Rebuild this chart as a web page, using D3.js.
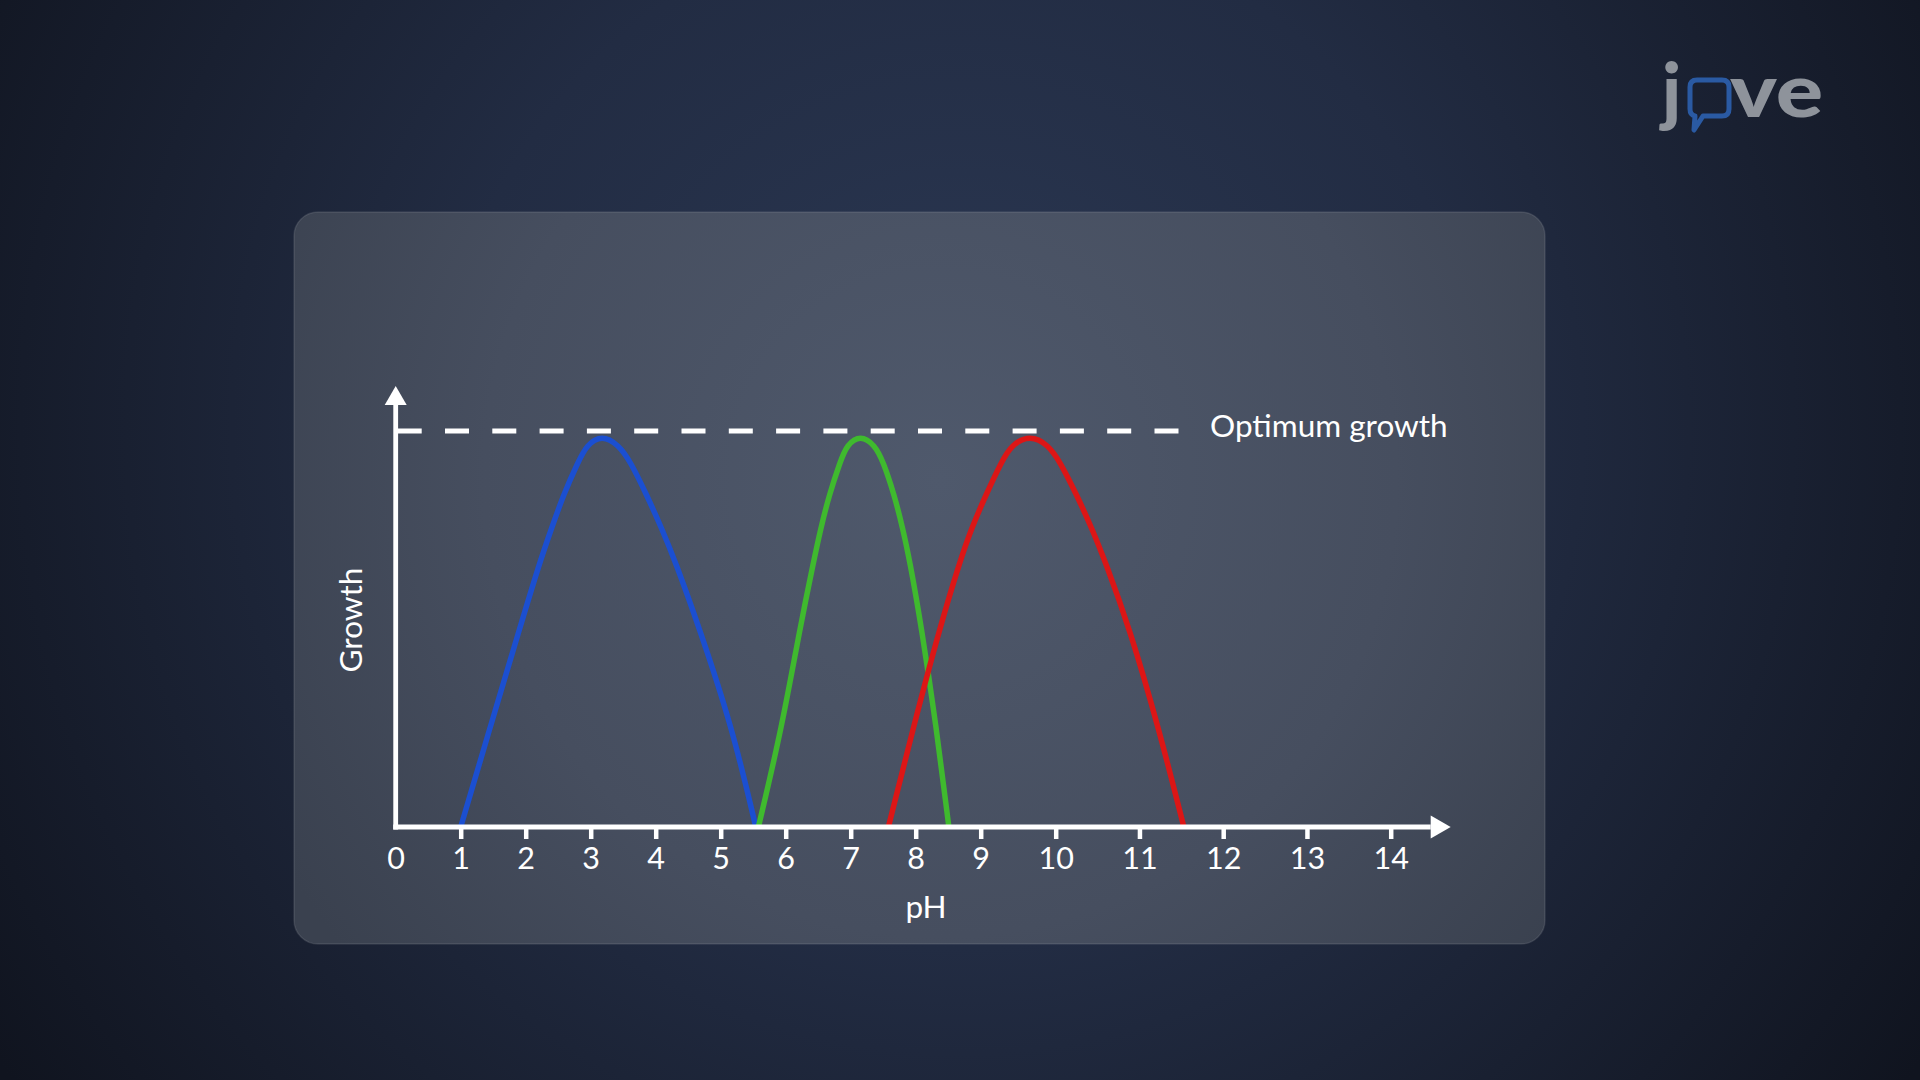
<!DOCTYPE html>
<html>
<head>
<meta charset="utf-8">
<script src="https://cdn.jsdelivr.net/npm/d3@7"></script>
<style>
  html, body { margin: 0; padding: 0; background: #161c2a; }
  svg { display: block; }
</style>
</head>
<body>
<div id="chart"></div>
<script>
// ---------- data ----------
const phTicks = [0, 1, 2, 3, 4, 5, 6, 7, 8, 9, 10, 11, 12, 13, 14];
const phBreaks = [0, 9, 10, 14];           // axis spacing changes after 9 and after 10
const optimumGrowth = 1;
// [pH, relative growth]
const acidophile = [[1.0,0],[1.45,0.25],[1.91,0.503],[2.22,0.671],[2.40,0.755],[2.58,0.839],[2.81,0.923],[2.94,0.965],[3.17,0.99],[3.43,0.965],[3.61,0.923],[3.86,0.839],[4.09,0.755],[4.30,0.671],[4.67,0.503],[5.18,0.25],[5.54,0]];
const neutrophile = [[5.58,0],[5.94,0.25],[6.22,0.503],[6.43,0.671],[6.54,0.755],[6.67,0.839],[6.84,0.923],[6.94,0.965],[7.15,0.99],[7.37,0.965],[7.50,0.923],[7.67,0.839],[7.80,0.755],[7.91,0.671],[8.09,0.503],[8.32,0.25],[8.51,0]];
const alkaliphile = [[7.58,0],[7.96,0.25],[8.37,0.503],[8.68,0.671],[8.86,0.755],[9.07,0.839],[9.28,0.923],[9.41,0.965],[9.66,0.99],[9.90,0.965],[10.05,0.923],[10.25,0.839],[10.43,0.755],[10.59,0.671],[10.88,0.503],[11.23,0.25],[11.53,0]];
const seriesNames = ["Acidophile", "Neutrophile", "Alkaliphile"];
const seriesColors = ["#1b4fd1", "#3fba2e", "#dc1616"];
const xLabel = "pH", yLabel = "Growth", optimumLabel = "Optimum growth";

// ---------- layout ----------
const W = 1920, H = 1080;
const originX = 395.7, baseY = 827, optY = 431;
const unitLow = 65, unitMid = 75, unitHigh = 83.75;

const svg = d3.select("#chart").append("svg").attr("width", W).attr("height", H);
const defs = svg.append("defs");

const bg = defs.append("radialGradient").attr("id", "bg")
  .attr("gradientUnits", "userSpaceOnUse").attr("cx", 960).attr("cy", 430).attr("r", 1150);
bg.append("stop").attr("offset", 0).attr("stop-color", "#2b3853");
bg.append("stop").attr("offset", 0.45).attr("stop-color", "#222c43");
bg.append("stop").attr("offset", 1).attr("stop-color", "#10141f");

const card = defs.append("radialGradient").attr("id", "card")
  .attr("gradientUnits", "userSpaceOnUse").attr("cx", 940).attr("cy", 480).attr("r", 760);
card.append("stop").attr("offset", 0).attr("stop-color", "#4f596c");
card.append("stop").attr("offset", 0.6).attr("stop-color", "#464e5f");
card.append("stop").attr("offset", 1).attr("stop-color", "#3a414f");

svg.append("rect").attr("width", W).attr("height", H).attr("fill", "url(#bg)");
svg.append("rect").attr("x", 294).attr("y", 212).attr("width", 1251).attr("height", 732)
  .attr("rx", 24).attr("fill", "url(#card)")
  .attr("stroke", "rgba(255,255,255,0.10)").attr("stroke-width", 1.5);

// ---------- scales ----------
const x = d3.scaleLinear().domain(phBreaks)
  .range([originX, originX + 9 * unitLow, originX + 9 * unitLow + unitMid, originX + 9 * unitLow + unitMid + 4 * unitHigh]);
const y = d3.scaleLinear().domain([0, optimumGrowth]).range([baseY, optY]);

const g = svg.append("g");
const font = "Lato, 'Noto Sans', sans-serif";

// optimum dashed line
g.append("line").attr("x1", x(0) + 2).attr("x2", 1179)
  .attr("y1", y(optimumGrowth)).attr("y2", y(optimumGrowth))
  .attr("stroke", "#ffffff").attr("stroke-width", 5).attr("stroke-dasharray", "24 23.3");
g.append("text").attr("x", 1210).attr("y", y(optimumGrowth) + 6)
  .attr("font-family", font).attr("font-size", 31.5).attr("fill", "#ffffff")
  .text(optimumLabel);

// curves
const line = d3.line().x(d => x(d[0])).y(d => y(d[1])).curve(d3.curveBasis);
[acidophile, neutrophile, alkaliphile].forEach((s, i) => {
  g.append("path").datum(s).attr("d", line)
    .attr("fill", "none").attr("stroke", seriesColors[i]).attr("stroke-width", 5.5)
    .attr("stroke-linejoin", "round").attr("data-name", seriesNames[i]);
});

// x axis
const xAxisEnd = x(14) + 40;
g.append("line").attr("x1", x(0) - 2.5).attr("x2", xAxisEnd).attr("y1", baseY).attr("y2", baseY)
  .attr("stroke", "#ffffff").attr("stroke-width", 5);
g.append("path").attr("d", d3.line()([[xAxisEnd, baseY - 11.5], [xAxisEnd + 20, baseY], [xAxisEnd, baseY + 11.5]]))
  .attr("fill", "#ffffff");
const xAxis = d3.axisBottom(x).tickValues(phTicks).tickSize(12).tickPadding(8).tickFormat(d3.format("d"));
const ax = g.append("g").attr("transform", `translate(0,${baseY})`).call(xAxis);
ax.select(".domain").remove();
ax.selectAll(".tick line").attr("stroke", "#ffffff").attr("stroke-width", 4.5)
  .filter(d => d === 0).remove();
ax.selectAll(".tick text").attr("fill", "#ffffff").attr("font-family", font).attr("font-size", 30.5);

// y axis
const yTop = 405;
g.append("line").attr("x1", x(0)).attr("x2", x(0)).attr("y1", baseY + 2.5).attr("y2", yTop)
  .attr("stroke", "#ffffff").attr("stroke-width", 4.8);
g.append("path").attr("d", d3.line()([[x(0) - 11, yTop], [x(0), yTop - 19], [x(0) + 11, yTop]]))
  .attr("fill", "#ffffff");

// axis titles
g.append("text").attr("x", 926).attr("y", 918)
  .attr("text-anchor", "middle").attr("font-family", font).attr("font-size", 31.5).attr("fill", "#ffffff")
  .text(xLabel);
g.append("text").attr("transform", "translate(362,620) rotate(-90)")
  .attr("text-anchor", "middle").attr("font-family", font).attr("font-size", 31.5).attr("fill", "#ffffff")
  .text(yLabel);

// logo
const logo = svg.append("g");
const logoGray = "#8e939b", logoBlue = "#2a5aa3";
logo.append("text").attr("x", 1662).attr("y", 117).attr("font-family", font).attr("font-weight", 900)
  .attr("font-size", 74).attr("fill", logoGray).text("j");
logo.append("path")
  .attr("d", "M1697,80 H1722 Q1729,80 1729,87 V109 Q1729,116 1722,116 H1703 L1694,130 L1695,116 Q1690,115 1690,109 V87 Q1690,80 1697,80 Z")
  .attr("fill", "none").attr("stroke", logoBlue).attr("stroke-width", 5).attr("stroke-linejoin", "round");
logo.append("text").attr("x", 1730).attr("y", 117).attr("font-family", font).attr("font-weight", 900)
  .attr("font-size", 74).attr("fill", logoGray)
  .attr("textLength", 93).attr("lengthAdjust", "spacingAndGlyphs").text("ve");
</script>
</body>
</html>
